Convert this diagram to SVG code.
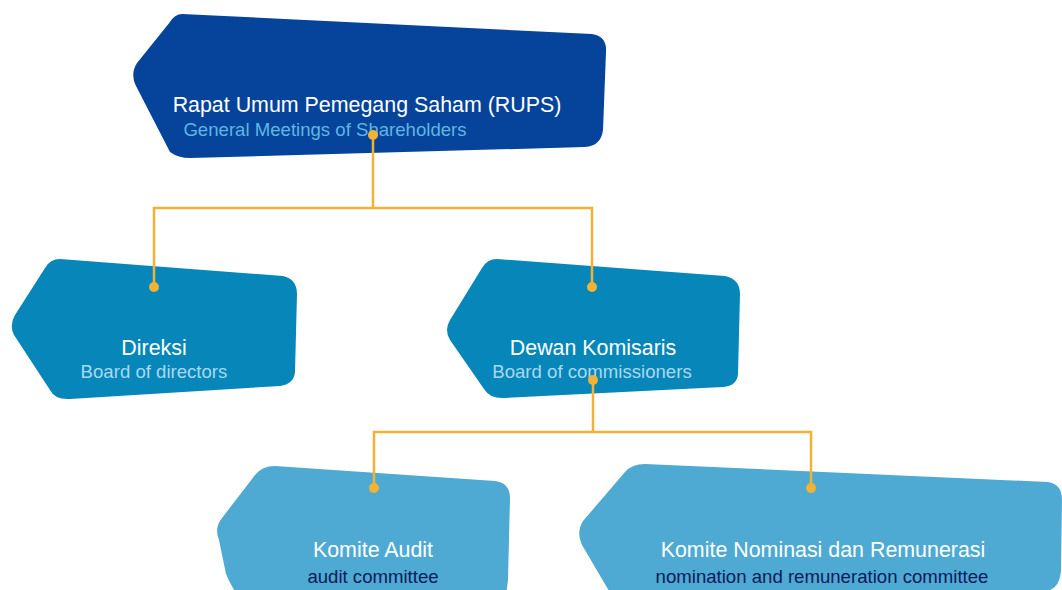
<svg xmlns="http://www.w3.org/2000/svg" width="1062" height="590" viewBox="0 0 1062 590">
<style>
.t{font-family:"Liberation Sans",Arial,sans-serif;text-anchor:middle}
.w{fill:#ffffff;font-size:21.4px}
.s{font-size:18.6px}
.conn{fill:none;stroke:#f2b233;stroke-width:2.5}
.dot{fill:#f2b233}
</style>
<rect width="1062" height="590" fill="#ffffff"/>
<g id="node-rups">
<path d="M182 14 L592 34 Q607 36 606 52 L603 130 Q601 146 585 147 L190 158 Q178 158 170 152 L136 86 Q130 74 137 63 L170 22 Q175 14 182 14 Z" fill="#05449a"/>
<text class="t w" x="367" y="112">Rapat Umum Pemegang Saham (RUPS)</text>
<text class="t s" x="325" y="136" fill="#5fb6e2">General Meetings of Shareholders</text>
</g>
<g id="node-direksi">
<path d="M60 259 L283 276 Q297 279 297 294 L295 372 Q294 384 280 386 L70 399 Q55 400 50 390 L14 335 Q9 325 15 315 L45 268 Q50 259 60 259 Z" fill="#0786ba"/>
<text class="t w" x="154" y="355">Direksi</text>
<text class="t s" x="154" y="378" fill="#a9d9ef">Board of directors</text>
</g>
<g id="node-dewan">
<path d="M497 259 L725 276 Q740 279 740 294 L738 374 Q737 386 723 387 L505 398 Q490 399 484 389 L450 340 Q444 330 450 320 L482 268 Q487 259 497 259 Z" fill="#0786ba"/>
<text class="t w" x="593" y="355">Dewan Komisaris</text>
<text class="t s" x="592" y="378" fill="#a9d9ef">Board of commissioners</text>
</g>
<g id="node-audit">
<path d="M275 466 L495 481 Q510 483 510 498 L508 580 L506 596 L238 596 Q231 586 226 574 L219 540 Q214 528 222 518 L255 475 Q262 466 275 466 Z" fill="#4eaad2"/>
<text class="t w" x="373" y="557">Komite Audit</text>
<text class="t s" x="373" y="583" fill="#0b1a5a">audit committee</text>
</g>
<g id="node-nominasi">
<path d="M645 464 L1048 482 Q1062 484 1062 500 L1061 570 Q1060 586 1050 590 L1048 596 L612 596 L582 545 Q576 532 583 521 L625 472 Q632 464 645 464 Z" fill="#4eaad2"/>
<text class="t w" x="823" y="557">Komite Nominasi dan Remunerasi</text>
<text class="t s" x="822" y="583" fill="#0b1a5a">nomination and remuneration committee</text>
</g>
<g id="connectors">
<path class="conn" d="M373 135 V208 M154 287 V208 H592 V287"/>
<path class="conn" d="M593 380 V432 M374 488 V432 H811 V488"/>
<circle class="dot" cx="373" cy="135" r="5"/>
<circle class="dot" cx="154" cy="287" r="5"/>
<circle class="dot" cx="592" cy="287" r="5"/>
<circle class="dot" cx="593" cy="380" r="5"/>
<circle class="dot" cx="374" cy="488" r="5"/>
<circle class="dot" cx="811" cy="488" r="5"/>
</g>
</svg>
